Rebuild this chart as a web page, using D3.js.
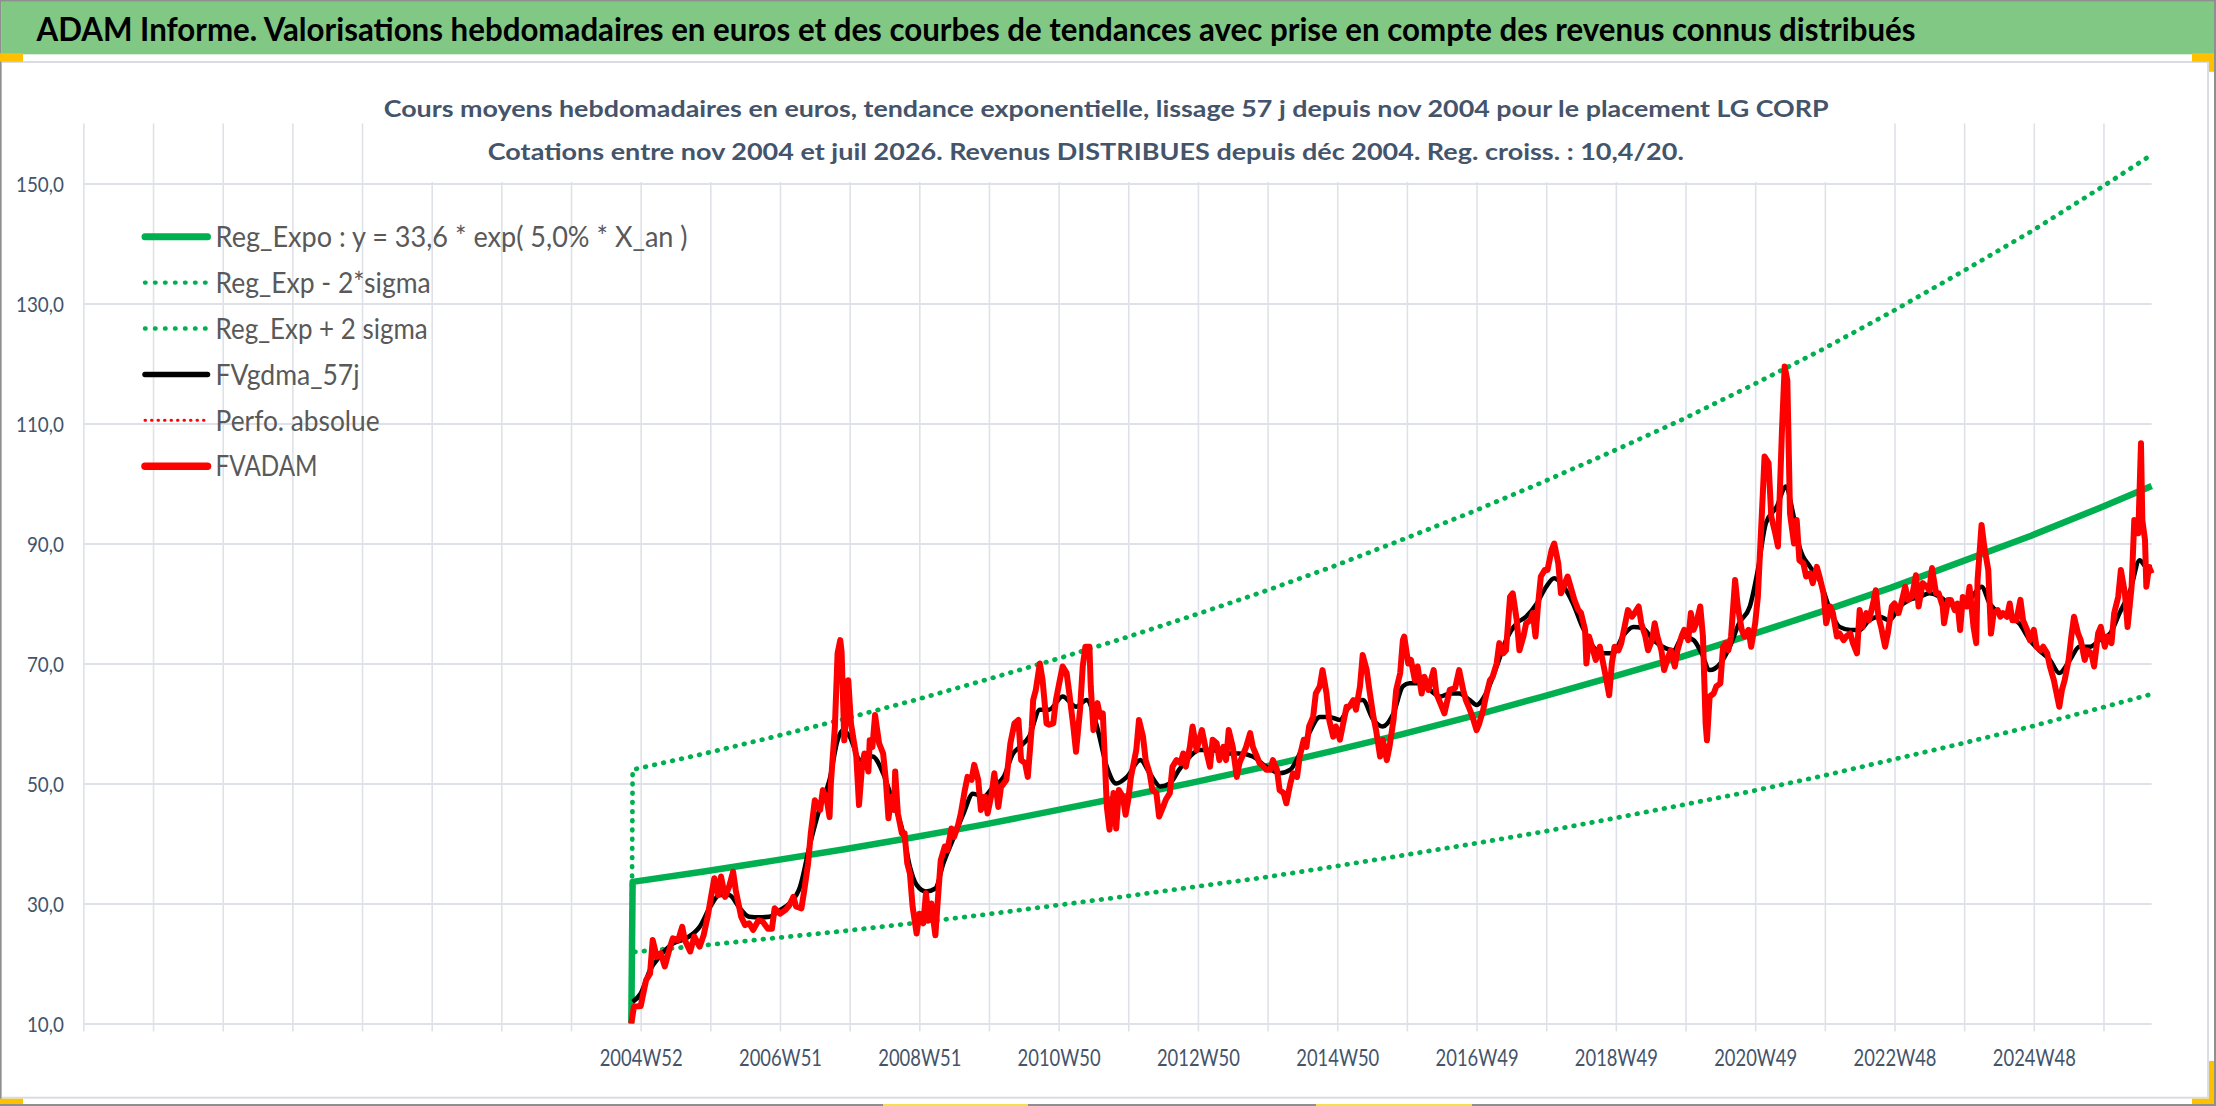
<!DOCTYPE html>
<html><head><meta charset="utf-8">
<script src="https://cdn.jsdelivr.net/npm/d3@7/dist/d3.min.js"></script>
<style>html,body{margin:0;padding:0;background:#fff;overflow:hidden}</style>
</head><body>
<svg id="c" width="2216" height="1106"></svg>
<script>
// ---------- texts ----------
const mainTitle = "ADAM Informe. Valorisations hebdomadaires en euros et des courbes de tendances avec prise en compte des revenus connus distribués";
const chartTitle1 = "Cours moyens hebdomadaires en euros, tendance exponentielle, lissage 57 j depuis nov 2004 pour le placement LG CORP";
const chartTitle2 = "Cotations entre nov 2004 et juil 2026. Revenus DISTRIBUES depuis déc 2004. Reg. croiss. : 10,4/20.";
const legendLabels = ["Reg_Expo : y = 33,6 * exp( 5,0% *  X_an )", "Reg_Exp - 2*sigma", "Reg_Exp + 2 sigma", "FVgdma_57j", "Perfo. absolue", "FVADAM"];

// ---------- category axis (weeks counted from 2004W52) ----------
const axisStartWeek = -416;
const axisEndWeek = 1128;
const xTickWeeks = [0, 104, 208, 312, 416, 520, 624, 728, 832, 936, 1040];
const xTickLabels = ["2004W52", "2006W51", "2008W51", "2010W50", "2012W50", "2014W50", "2016W49", "2018W49", "2020W49", "2022W48", "2024W48"];
const yTicks = [10, 30, 50, 70, 90, 110, 130, 150];

// ---------- trend curves ----------
const trendWeeks = [-7, -6, 46, 98, 151, 203, 255, 307, 359, 411, 464, 516, 568, 620, 672, 724, 777, 829, 881, 933, 985, 1038, 1090, 1128];
const regExpo = [10, 33.6, 35.3, 37.1, 39.0, 41.0, 43.1, 45.4, 47.7, 50.1, 52.7, 55.4, 58.2, 61.2, 64.4, 67.7, 71.1, 74.8, 78.6, 82.6, 86.9, 91.3, 96.0, 99.6];
const regLow = [10, 21.9, 23.0, 24.2, 25.4, 26.7, 28.1, 29.6, 31.1, 32.7, 34.3, 36.1, 38.0, 39.9, 41.9, 44.1, 46.4, 48.7, 51.2, 53.9, 56.6, 59.5, 62.6, 64.9];
const regHigh = [10, 52.3, 54.9, 57.7, 60.7, 63.8, 67.1, 70.5, 74.1, 77.9, 81.9, 86.1, 90.6, 95.2, 100.1, 105.2, 110.6, 116.3, 122.2, 128.5, 135.1, 142.0, 149.3, 154.8];

// ---------- FVgdma_57j (smoothed) ----------
const fvgdmaWeeks = [-6,0,7,14,24,34,44,52,59,66,74,81,89,96,104,111,119,126,134,141,147,151,156,164,173,181,188,196,201,206,213,220,226,233,241,248,256,263,271,278,283,290,298,305,315,325,333,340,348,355,363,373,380,388,395,402,410,417,427,437,447,457,467,477,485,492,499,507,514,522,529,539,547,554,562,569,574,582,589,597,604,611,619,624,631,639,646,654,661,669,676,682,689,696,703,711,718,726,733,741,748,756,763,771,778,786,792,798,806,813,820,828,834,840,848,855,860,865,873,880,888,895,903,910,917,925,932,940,947,955,962,970,977,985,992,1001,1007,1015,1022,1029,1037,1044,1052,1059,1067,1074,1082,1089,1097,1104,1112,1119,1124,1128];
const fvgdma = [13.6,15,18.9,21.1,23.3,24.2,26.1,29.5,31.4,31.4,29.2,27.8,27.7,27.8,28.9,30,32.8,39.5,46.1,50.6,57.2,58.9,57.8,53.9,54.5,51.7,47.2,41.7,36.1,33.1,32,32.5,36.7,40.6,45,48.3,47.8,49.4,51.1,55,56.1,57.8,62.3,62.3,64.5,62.8,63.9,60,52.8,50,51.1,53.9,51.7,49.5,50,52.3,54.5,55.6,55.6,55,55,54.5,52.8,51.7,52.3,55,58.4,61.1,61.1,60.6,62.8,63.9,60.6,59.5,61.7,66.2,66.7,66.7,65.6,64.5,65,65,63.9,63.1,65,69.5,73.9,76.7,77.8,80,82.8,84.2,82.8,80,76.1,72.8,71.7,71.7,74.5,76.1,75.9,73.9,72.8,72.2,74.5,73.9,71.7,68.9,70,72.8,76.7,79.5,85.6,93.4,96.1,99.5,95.3,89.5,86.1,83.9,78.9,76.1,75.6,75.6,77.2,77.8,77.2,79.5,80.6,81.1,81.7,81.1,80,79.5,80.6,82.8,80,78.4,77.8,76.7,73.9,72.2,70.6,68.4,70.6,72.8,72.8,73.9,75,78.4,82.2,87.2,86.1,86.1];

// ---------- FVADAM (weekly values) ----------
const fvadamWeeks = [-7,-5,0,4,7,9,12,15,18,22,24,28,31,33,37,40,44,47,50,53,55,58,60,63,66,69,71,75,78,81,84,88,91,95,98,100,104,108,111,114,116,120,122,125,127,130,134,136,139,141,142,145,147,149,150,152,155,157,159,161,163,165,167,170,171,173,175,178,181,183,185,187,189,190,192,195,197,199,201,203,206,208,211,213,215,217,220,222,224,227,229,232,234,237,239,242,244,247,249,252,254,257,259,262,264,267,269,273,276,279,282,
284,287,289,292,293,295,298,300,303,305,308,310,313,315,318,320,323,325,328,330,332,335,336,338,341,343,345,346,348,350,353,355,357,360,362,364,366,370,372,375,377,380,382,385,387,390,392,395,397,400,403,405,407,410,412,415,417,419,422,425,427,430,432,435,437,439,442,445,447,450,452,455,457,460,462,465,467,470,472,475,477,480,482,485,487,490,492,495,497,499,502,504,507,509,512,514,517,519,522,524,527,529,532,534,537,539,542,544,547,549,552,554,557,559,562,564,567,569,
570,573,575,578,580,583,585,588,592,594,598,600,604,608,611,614,616,619,621,624,626,629,631,634,636,639,641,644,646,649,651,654,656,659,661,664,666,668,670,672,675,677,680,682,685,687,690,692,695,697,700,702,705,706,708,711,713,716,718,721,723,725,727,730,732,735,737,740,742,745,747,750,752,755,757,759,762,764,767,769,772,774,777,779,782,784,786,788,791,793,795,796,798,801,803,806,808,810,812,814,817,819,822,824,827,829,832,834,837,839,842,844,847,849,852,854,856,858,
861,863,865,868,870,873,875,878,880,883,885,888,890,893,895,898,900,903,905,908,910,912,915,917,920,922,924,926,929,931,934,936,939,941,944,946,949,952,954,957,960,962,964,967,969,972,973,976,978,981,983,985,987,990,992,995,997,998,1001,1003,1006,1008,1010,1013,1015,1017,1020,1022,1024,1027,1030,1032,1035,1037,1040,1042,1045,1047,1050,1052,1055,1057,1059,1061,1063,1066,1068,1070,1073,1075,1078,1080,1083,1085,1088,1090,1093,1095,1098,1100,1103,1105,1108,1110,1113,1115,1118,1120,1121,1123,1124,1126,1128];
const fvadam = [10,12.8,12.9,17.2,18.3,23.9,21.1,21.7,19.5,22.8,24.2,23.9,26.1,23.9,22,24.5,22.8,24.7,27.8,31.7,34.2,31.4,34.5,31.1,32.8,35.3,32.2,27.8,26.4,26.7,25.6,27.2,27,25.8,25.8,29.2,28.3,28.9,29.7,31.1,29.5,29.2,32,36.7,41.7,47.2,45.6,48.9,47.2,44.4,50,59.5,71.7,73.9,72,57.2,67.2,60,57.2,54.5,46.4,52.2,55,52,57.2,56.1,61.4,56.7,55,50.6,44.2,47.8,45.6,52,45,41.7,41.7,36.7,35,29.5,25,28.3,26.7,31.7,27.2,30,24.7,31.1,37.2,39.5,38.9,42.5,41.1,43.1,45,48.9,51.1,50.6,53.1,50.6,45.6,47.8,45,48.3,51.7,46.1,49.4,50.6,56.7,60,60.6,
53.9,53.4,51.1,59.5,63.9,65.6,70,67.3,60,59.8,60,63.9,67.3,69.5,68.4,65,59.5,55.3,62.3,69.5,72.8,72.8,66.2,58.9,63.4,61.1,61.7,56.7,46.1,42.3,48.4,42.5,48.9,47.8,44.8,47.3,51.1,55.6,60.6,57.8,53.9,51.7,48.9,48.4,44.5,46.1,47.3,48.4,52.8,53.9,53.4,55,52.8,56.1,59.5,55.6,57.3,58.9,55.6,52.8,57.3,56.7,53.9,56.1,53.9,58.9,56.1,51.1,53.4,55,56.1,58.4,56.1,54.5,53.4,52.8,52.3,52.3,53.9,52.3,48.9,48.4,46.7,50,51.7,51.1,54.5,57.3,56.1,59.5,61.1,65,66.2,68.9,65,60.6,57.8,59.5,57.3,59.5,62.8,62.8,63.9,62.3,66.2,71.4,68.9,65.6,61.1,58.9,54.5,57.3,53.9,56.1,60.6,65.6,68.4,73.9,
74.5,70,70.6,67.2,69.5,65,67.8,65.6,68.9,65,62.8,61.7,65.6,65.9,68.9,65.6,63.9,62.3,61.1,58.9,60,62.3,64.5,67.2,67.8,70,73.4,71.7,72.2,81.1,81.7,77.2,72.2,74.5,76.7,77.2,78.4,74.5,80,84.5,85.6,85.6,88.9,90,86.7,81.7,83.4,84.5,82.2,80.6,78.9,78.4,75.6,70,74.5,72.2,70.6,72.8,70.6,67.2,64.7,70,72.8,72.2,73.4,76.7,78.9,77.8,78.4,79.5,76.7,74.5,72.2,73.9,76.7,74.5,72.2,68.9,71.1,72.2,69.5,72.2,74.5,75.6,73.9,78.4,75.6,76.7,79.5,74.5,60,57.2,64.5,65,66.2,66.7,72.8,73.4,72.2,74.5,83.9,79.5,75.6,74.5,75.6,72.8,76.7,81.1,95,104.5,103.4,94.5,91.7,89.5,108.9,119.5,117.2,95,
90,93.9,87.2,86.7,84.5,85,83.4,86.1,84.5,81.7,76.7,79.5,78.4,74.5,75,73.9,74.5,75,73.4,71.7,78.9,76.1,78.4,77.2,80,82.2,77.8,76.1,72.8,75,79.5,80,78.4,80,82.8,80.6,81.1,84.7,79.5,83.4,82.8,82.2,85.9,81.7,81.7,79.5,76.7,80.6,80.6,78.9,80,75.6,81.1,79.5,82.8,76.1,73.4,83.9,93.1,89.5,85.6,75,78.4,78.9,77.8,78.4,77.8,80,77.2,77.2,80.6,77.2,75.6,73.9,75.6,72.8,72.2,72.8,71.7,69.5,67.2,65,62.8,65.6,67.2,70.6,74.5,77.8,75,73.9,70.6,72.2,71.7,69.5,75,76.1,72.8,74.5,73.4,78.4,81.1,85.6,81.7,76.1,82.8,93.9,91.7,106.7,93.9,90.6,82.8,86.1,85];

// ---------- drawing ----------
const FONT = "Lato, 'Open Sans', sans-serif";
const GREEN = "#00b050", GRID = "#dee2e8", SLATE = "#44546a";
const svg = d3.select("#c");
const PL = 83.4, PR = 2151.7, PT = 123.5, PB = 1023.5;
const x = d3.scaleLinear().domain([axisStartWeek, axisEndWeek]).range([PL, PR]);
const y = d3.scaleLinear().domain([10, 160]).range([PB, PT]);

svg.append("rect").attr("width", 2216).attr("height", 1106).attr("fill", "#fff");

// frame and banner
svg.append("rect").attr("x", 1).attr("y", 62).attr("width", 2207).attr("height", 1035.7)
  .attr("fill", "none").attr("stroke", "#d9dce1").attr("stroke-width", 2);
svg.append("rect").attr("x", 1.5).attr("y", 1.7).attr("width", 2212.5).attr("height", 52.6).attr("fill", "#80c883");
const bord = svg.append("g").attr("fill", "#8f8f8f");
bord.append("rect").attr("x", 0).attr("y", 0).attr("width", 2216).attr("height", 1.8);
bord.append("rect").attr("x", 2214).attr("y", 0).attr("width", 2).attr("height", 1106);
bord.append("rect").attr("x", 0).attr("y", 1104).attr("width", 2216).attr("height", 2);
bord.append("rect").attr("x", 0).attr("y", 0).attr("width", 1.5).attr("height", 1106);
const hand = svg.append("g").attr("fill", "#ffc000");
hand.append("rect").attr("x", 0).attr("y", 53.3).attr("width", 23).attr("height", 8.4);
hand.append("rect").attr("x", 2192).attr("y", 53.3).attr("width", 22).attr("height", 8.4);
hand.append("rect").attr("x", 2209).attr("y", 53.3).attr("width", 5).attr("height", 18.5);
hand.append("rect").attr("x", 2209).attr("y", 1061).attr("width", 5).attr("height", 43);
hand.append("rect").attr("x", 2192).attr("y", 1098.7).attr("width", 22).attr("height", 5.3);
hand.append("rect").attr("x", 0).attr("y", 1098.7).attr("width", 23).attr("height", 5.3);
svg.append("rect").attr("x", 883).attr("y", 1104).attr("width", 145).attr("height", 2).attr("fill", "#f3e04a");
svg.append("rect").attr("x", 1316).attr("y", 1104).attr("width", 156).attr("height", 2).attr("fill", "#f3e04a");

svg.append("text").attr("x", 976).attr("y", 40.7).attr("text-anchor", "middle")
  .attr("font-family", FONT).attr("font-size", 33).attr("font-weight", 700).attr("fill", "#000")
  .attr("textLength", 1879).attr("lengthAdjust", "spacingAndGlyphs").text(mainTitle);

// axes and gridlines
const gridWeeks = d3.range(0, 30).map(k => axisStartWeek + 52 * k);
const yFmt = d => d.toFixed(1).replace(".", ",");
const gy = svg.append("g").attr("transform", `translate(${PL},0)`)
  .call(d3.axisLeft(y).tickValues(yTicks).tickSize(-(PR - PL)).tickPadding(19.4).tickFormat(yFmt));
gy.select(".domain").remove();
gy.selectAll("line").attr("stroke", GRID).attr("stroke-width", 2.2);
gy.selectAll("text").attr("font-family", FONT).attr("font-size", 21.9).attr("fill", SLATE).attr("dy", "0.36em");

const gx = svg.append("g").attr("transform", `translate(0,${PB + 8})`)
  .call(d3.axisBottom(x).tickValues(gridWeeks).tickSizeInner(-(PB + 8 - PT)).tickSizeOuter(0).tickPadding(18.9)
    .tickFormat(w => { const i = xTickWeeks.indexOf(w); return i >= 0 ? xTickLabels[i] : ""; }));
gx.select(".domain").remove();
gx.selectAll("line").attr("stroke", GRID).attr("stroke-width", 1.6);
gx.selectAll("text").attr("font-family", FONT).attr("font-size", 22.3).attr("fill", SLATE);

function condense(sel, refText, target) {
  let ref = null;
  sel.each(function () { if (this.textContent === refText) ref = this.getComputedTextLength(); });
  if (!ref) return;
  const k = target / ref;
  sel.each(function () {
    if (!this.textContent) return;
    const w = this.getComputedTextLength();
    d3.select(this).attr("textLength", w * k).attr("lengthAdjust", "spacingAndGlyphs");
  });
}
condense(gy.selectAll("text"), "150,0", 48);
condense(gx.selectAll("text"), "2004W52", 83);

// chart title (white box hides gridlines)
svg.append("rect").attr("x", 372).attr("y", 72).attr("width", 1468).attr("height", 110).attr("fill", "#fff");
svg.append("text").attr("x", 1106.2).attr("y", 116.7).attr("text-anchor", "middle")
  .attr("font-family", FONT).attr("font-size", 23.3).attr("font-weight", 700).attr("fill", SLATE)
  .attr("textLength", 1445).attr("lengthAdjust", "spacingAndGlyphs").text(chartTitle1);
svg.append("text").attr("x", 1085.8).attr("y", 160).attr("text-anchor", "middle")
  .attr("font-family", FONT).attr("font-size", 23.3).attr("font-weight", 700).attr("fill", SLATE)
  .attr("textLength", 1196).attr("lengthAdjust", "spacingAndGlyphs").text(chartTitle2);

// series
svg.append("defs").append("clipPath").attr("id", "plot")
  .append("rect").attr("x", PL).attr("y", PT - 4).attr("width", PR - PL + 4).attr("height", PB - PT + 4);
const plot = svg.append("g").attr("clip-path", "url(#plot)");
const mkLine = (weeks, curve) => d3.line().x((d, i) => x(weeks[i])).y(d => y(d)).curve(curve);

plot.append("path").datum(regExpo).attr("d", mkLine(trendWeeks, d3.curveLinear))
  .attr("fill", "none").attr("stroke", GREEN).attr("stroke-width", 6.5).attr("stroke-linejoin", "round");
[regLow, regHigh].forEach(s => {
  plot.append("path").datum(s).attr("d", mkLine(trendWeeks, d3.curveLinear))
    .attr("fill", "none").attr("stroke", GREEN).attr("stroke-width", 4.8)
    .attr("stroke-linecap", "round").attr("stroke-dasharray", "0.6 8.6");
});
plot.append("path").datum(fvgdma).attr("d", mkLine(fvgdmaWeeks, d3.curveMonotoneX))
  .attr("fill", "none").attr("stroke", "#000").attr("stroke-width", 4.5).attr("stroke-linejoin", "round");
plot.append("path").datum(fvadam).attr("d", mkLine(fvadamWeeks, d3.curveLinear))
  .attr("fill", "none").attr("stroke", "#ff0000").attr("stroke-width", 6).attr("stroke-linejoin", "round");

// legend
const legStyles = [
  { c: GREEN, w: 7, dash: null },
  { c: GREEN, w: 4.4, dash: "0.6 9.4" },
  { c: GREEN, w: 4.4, dash: "0.6 9.4" },
  { c: "#000", w: 5.5, dash: null },
  { c: "#ff0000", w: 3, dash: "0.5 6" },
  { c: "#ff0000", w: 7.5, dash: null }
];
const legTextLen = [472, 215, 212, 144, 164, 102];
const leg = svg.append("g");
legendLabels.forEach((lab, i) => {
  const yy = 236.7 + 45.9 * i;
  const st = legStyles[i];
  const ln = leg.append("line").attr("x1", 145).attr("x2", 207.5).attr("y1", yy).attr("y2", yy)
    .attr("stroke", st.c).attr("stroke-width", st.w).attr("stroke-linecap", "round");
  if (st.dash) ln.attr("stroke-dasharray", st.dash);
  leg.append("text").attr("x", 215.6).attr("y", yy + 10.2)
    .attr("font-family", FONT).attr("font-size", 28.9).attr("fill", "#595959")
    .attr("textLength", legTextLen[i]).attr("lengthAdjust", "spacingAndGlyphs").text(lab);
});
</script>
</body></html>
